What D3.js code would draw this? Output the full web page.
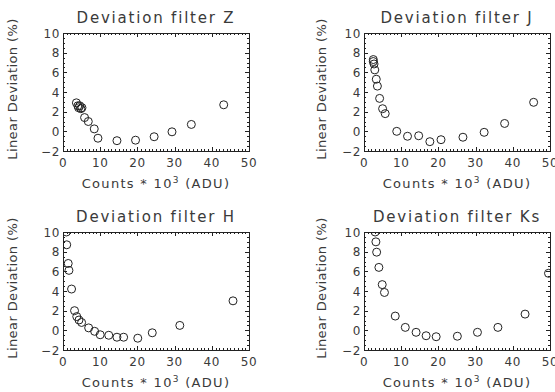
<!DOCTYPE html>
<html>
<head>
<meta charset="utf-8">
<script src="https://cdn.jsdelivr.net/npm/d3@7"></script>
<style>
  body { margin: 0; background: #fff; }
  text { font-family: "DejaVu Sans", sans-serif; fill: #3a3a3a; }
</style>
</head>
<body>
<div id="chart"></div>
<script>
// values
var titles = ["Deviation filter Z", "Deviation filter J", "Deviation filter H", "Deviation filter Ks"];
var xTicks = [0, 10, 20, 30, 40, 50];
var yTicks = [-2, 0, 2, 4, 6, 8, 10];

var zCounts = [3.6, 4.0, 4.2, 4.5, 4.8, 5.1, 5.8, 6.8, 8.4, 9.4, 14.5, 19.5, 24.5, 29.3, 34.5, 43.2];
var zDev = [2.9, 2.6, 2.4, 2.6, 2.3, 2.4, 1.4, 1.0, 0.25, -0.7, -0.95, -0.9, -0.55, -0.05, 0.7, 2.7];

var jCounts = [2.5, 2.5, 2.7, 2.9, 3.3, 3.6, 4.2, 5.0, 5.7, 8.8, 11.7, 14.7, 17.7, 20.7, 26.6, 32.3, 37.8, 45.6];
var jDev = [7.3, 7.1, 6.85, 6.25, 5.3, 4.6, 3.35, 2.3, 1.8, 0.0, -0.5, -0.45, -1.05, -0.85, -0.6, -0.1, 0.8, 2.95];

var hCounts = [0.9, 1.0, 1.4, 1.6, 2.3, 3.1, 3.7, 4.3, 5.0, 6.9, 8.5, 10.0, 12.3, 14.5, 16.3, 20.1, 24.0, 31.4, 45.7];
var hDev = [10.0, 8.7, 6.8, 6.1, 4.2, 2.0, 1.4, 1.05, 0.8, 0.25, -0.1, -0.45, -0.5, -0.7, -0.7, -0.8, -0.25, 0.5, 3.0];

var ksCounts = [3.0, 3.2, 3.4, 4.0, 4.9, 5.5, 8.4, 11.1, 14.0, 16.7, 19.4, 25.1, 30.5, 36.0, 43.3, 49.6];
var ksDev = [10.0, 9.0, 7.95, 6.4, 4.65, 3.85, 1.45, 0.3, -0.2, -0.55, -0.65, -0.6, -0.2, 0.3, 1.65, 5.8];

var panels = [
  { title: titles[0], xs: zCounts, ys: zDev, left: 63, top: 33, ylab: 17 },
  { title: titles[1], xs: jCounts, ys: jDev, left: 364, top: 33, ylab: 326 },
  { title: titles[2], xs: hCounts, ys: hDev, left: 63, top: 232, ylab: 17 },
  { title: titles[3], xs: ksCounts, ys: ksDev, left: 364, top: 232, ylab: 326 }
];

var boxW = 186, boxH = 118;

var svg = d3.select("#chart").append("svg")
  .attr("width", 555)
  .attr("height", 392);

panels.forEach(function (p, k) {
  var x = d3.scaleLinear().domain([0, 50]).range([p.left, p.left + boxW]);
  var y = d3.scaleLinear().domain([-2, 10]).range([p.top + boxH, p.top]);
  var g = svg.append("g");

  // clip for the circles
  svg.append("clipPath").attr("id", "clip" + k)
    .append("rect")
    .attr("x", p.left).attr("y", p.top)
    .attr("width", boxW + 1).attr("height", boxH + 1);

  // minor + major ticks on all four sides, pointing in
  var xMinor = d3.range(0, 51, 1);
  var yMinor = d3.range(-2, 10.01, 0.5);

  g.selectAll(".xt").data(xMinor).enter().append("line")
    .attr("x1", function (d) { return Math.round(x(d)) + 0.5; })
    .attr("x2", function (d) { return Math.round(x(d)) + 0.5; })
    .attr("y1", p.top + boxH)
    .attr("y2", function (d) { return p.top + boxH - (d % 10 == 0 ? 4 : 2); })
    .attr("stroke", "#222");
  g.selectAll(".xtt").data(xMinor).enter().append("line")
    .attr("x1", function (d) { return Math.round(x(d)) + 0.5; })
    .attr("x2", function (d) { return Math.round(x(d)) + 0.5; })
    .attr("y1", p.top)
    .attr("y2", function (d) { return p.top + (d % 10 == 0 ? 4 : 2); })
    .attr("stroke", "#222");
  g.selectAll(".yt").data(yMinor).enter().append("line")
    .attr("y1", function (d) { return Math.round(y(d)) + 0.5; })
    .attr("y2", function (d) { return Math.round(y(d)) + 0.5; })
    .attr("x1", p.left)
    .attr("x2", function (d) { return p.left + (d % 2 == 0 ? 4 : 2); })
    .attr("stroke", "#222");
  g.selectAll(".ytr").data(yMinor).enter().append("line")
    .attr("y1", function (d) { return Math.round(y(d)) + 0.5; })
    .attr("y2", function (d) { return Math.round(y(d)) + 0.5; })
    .attr("x1", p.left + boxW)
    .attr("x2", function (d) { return p.left + boxW - (d % 2 == 0 ? 4 : 2); })
    .attr("stroke", "#222");

  g.append("rect")
    .attr("x", p.left + 0.5).attr("y", p.top + 0.5)
    .attr("width", boxW).attr("height", boxH)
    .attr("fill", "none")
    .attr("stroke", "#222");

  // tick labels
  g.selectAll(".xl").data(xTicks).enter().append("text")
    .attr("x", function (d) { return x(d); })
    .attr("y", p.top + boxH + 16)
    .style("text-anchor", "middle")
    .style("font-size", "12px")
    .style("letter-spacing", "0.6px")
    .text(function (d) { return d; });

  g.selectAll(".yl").data(yTicks).enter().append("text")
    .attr("x", p.left - 3)
    .attr("y", function (d) { return y(d) + 4.5; })
    .style("text-anchor", "end")
    .style("font-size", "12px")
    .style("letter-spacing", "0.6px")
    .text(function (d) { return d < 0 ? "\u2212" + Math.abs(d) : d; });

  // title
  g.append("text")
    .attr("x", p.left + boxW / 2)
    .attr("y", p.top - 10)
    .style("text-anchor", "middle")
    .style("font-size", "15px")
    .style("letter-spacing", "1.8px")
    .text(p.title);

  // x label
  var xl = g.append("text")
    .attr("x", p.left + boxW / 2)
    .attr("y", p.top + boxH + 37)
    .style("text-anchor", "middle")
    .style("font-size", "13px")
    .style("letter-spacing", "1.3px");
  xl.append("tspan").text("Counts * 10");
  xl.append("tspan").attr("dy", -5).style("font-size", "9px").text("3");
  xl.append("tspan").attr("dy", 5).text(" (ADU)");

  // y label
  g.append("text")
    .attr("transform", "translate(" + p.ylab + "," + (p.top + boxH / 2 - 3) + ") rotate(-90)")
    .style("text-anchor", "middle")
    .style("font-size", "13px")
    .style("letter-spacing", "0.4px")
    .text("Linear Deviation (%)");

  // points
  var pts = p.xs.map(function (v, i) { return { c: v, d: p.ys[i] }; });
  svg.append("g")
    .attr("clip-path", "url(#clip" + k + ")")
    .selectAll("circle")
    .data(pts)
    .enter().append("circle")
    .attr("cx", function (d) { return x(d.c); })
    .attr("cy", function (d) { return y(d.d); })
    .attr("r", 4)
    .attr("fill", "none")
    .attr("stroke", "#222")
    .attr("stroke-width", 1);
});
</script>
</body>
</html>
